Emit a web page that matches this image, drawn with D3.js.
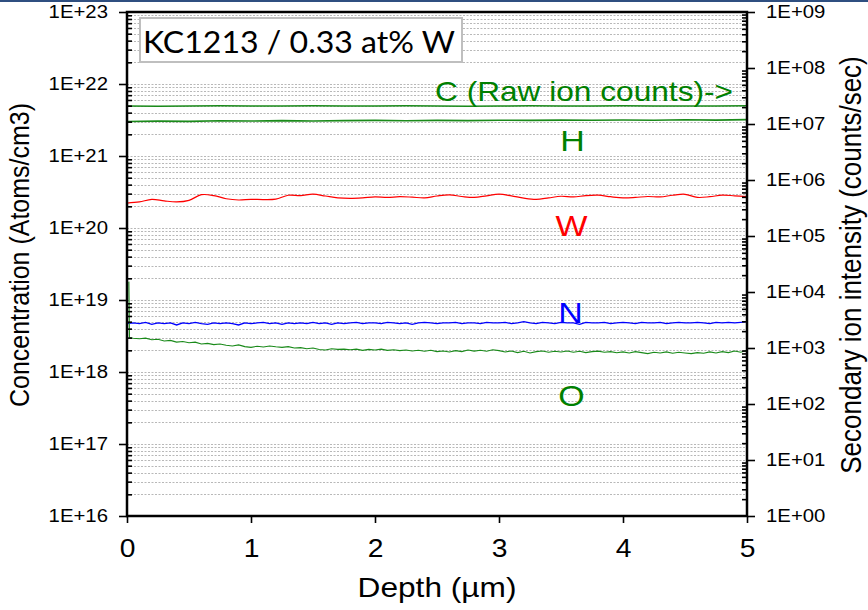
<!DOCTYPE html>
<html><head><meta charset="utf-8">
<script src="https://cdn.jsdelivr.net/npm/d3@7"></script>
<style>
html,body{margin:0;padding:0;background:#fff;}
svg{display:block;}
text{font-family:"Liberation Sans",Arial,sans-serif;}
</style></head>
<body>
<script>
// ---------- data ----------
const title = "KC1213 / 0.33 at% W";
const xTicks = [0, 1, 2, 3, 4, 5];
const yLeftTicks = [1e16, 1e17, 1e18, 1e19, 1e20, 1e21, 1e22, 1e23];
const yRightTicks = [1e0, 1e1, 1e2, 1e3, 1e4, 1e5, 1e6, 1e7, 1e8, 1e9];
const xTitle = "Depth (µm)";
const yLeftTitle = "Concentration (Atoms/cm3)";
const yRightTitle = "Secondary ion intensity (counts/sec)";

// C (raw ion counts, right axis) and H (atoms/cm3)
const depthCoarse = [0,0.25,0.5,0.75,1,1.25,1.5,1.75,2,2.25,2.5,2.75,3,3.25,3.5,3.75,4,4.25,4.5,4.75,5];
const cCounts = [2.10e7,2.08e7,2.10e7,2.12e7,2.10e7,2.09e7,2.11e7,2.10e7,2.10e7,2.12e7,2.10e7,2.08e7,2.10e7,2.11e7,2.10e7,2.10e7,2.12e7,2.10e7,2.09e7,2.10e7,2.11e7];
const hConc = [3.02e21,3.05e21,3.03e21,3.08e21,3.06e21,3.10e21,3.07e21,3.10e21,3.12e21,3.09e21,3.12e21,3.10e21,3.14e21,3.12e21,3.15e21,3.13e21,3.16e21,3.14e21,3.18e21,3.15e21,3.20e21];

// W (atoms/cm3)
const depthW = [0,0.1,0.2,0.3,0.4,0.5,0.6,0.7,0.8,0.9,1.0,1.1,1.2,1.3,1.4,1.5,1.6,1.7,1.8,1.9,2.0,2.1,2.2,2.3,2.4,2.5,2.6,2.7,2.8,2.9,3.0,3.1,3.2,3.3,3.4,3.5,3.6,3.7,3.8,3.9,4.0,4.1,4.2,4.3,4.4,4.5,4.6,4.7,4.8,4.9,5.0];
const wConc = [2.22e20,2.30e20,2.50e20,2.38e20,2.30e20,2.42e20,2.90e20,2.82e20,2.55e20,2.45e20,2.50e20,2.48e20,2.52e20,2.85e20,2.82e20,2.95e20,2.78e20,2.62e20,2.58e20,2.62e20,2.70e20,2.66e20,2.72e20,2.68e20,2.62e20,2.78e20,2.88e20,2.74e20,2.66e20,2.80e20,2.95e20,2.80e20,2.60e20,2.50e20,2.62e20,2.76e20,2.70e20,2.82e20,2.86e20,2.72e20,2.62e20,2.66e20,2.74e20,2.70e20,2.85e20,2.94e20,2.66e20,2.72e20,2.86e20,2.80e20,2.73e20];

// N (atoms/cm3)
const depthN = [0,0.05,0.1,0.15,0.2,0.25,0.3,0.35,0.4,0.45,0.5,0.55,0.6,0.65,0.7,0.75,0.8,0.85,0.9,0.95,1.0,1.05,1.1,1.15,1.2,1.25,1.3,1.35,1.4,1.45,1.5,1.55,1.6,1.65,1.7,1.75,1.8,1.85,1.9,1.95,2.0,2.05,2.1,2.15,2.2,2.25,2.3,2.35,2.4,2.45,2.5,2.55,2.6,2.65,2.7,2.75,2.8,2.85,2.9,2.95,3.0,3.05,3.1,3.15,3.2,3.25,3.3,3.35,3.4,3.45,3.5,3.55,3.6,3.65,3.7,3.75,3.8,3.85,3.9,3.95,4.0,4.05,4.1,4.15,4.2,4.25,4.3,4.35,4.4,4.45,4.5,4.55,4.6,4.65,4.7,4.75,4.8,4.85,4.9,4.95,5.0];
const nConc = [4.7e18,4.8e18,4.7e18,4.9e18,4.6e18,4.8e18,4.7e18,4.8e18,4.5e18,4.8e18,4.7e18,4.9e18,4.7e18,4.6e18,4.8e18,4.7e18,4.8e18,4.7e18,4.5e18,4.8e18,
4.7e18,4.8e18,4.9e18,4.7e18,4.8e18,4.6e18,4.8e18,4.7e18,4.8e18,4.7e18,4.9e18,4.7e18,4.8e18,4.6e18,4.8e18,4.7e18,4.8e18,4.9e18,4.7e18,4.8e18,
4.8e18,4.7e18,4.9e18,4.8e18,4.7e18,4.8e18,4.6e18,4.8e18,4.9e18,4.8e18,4.7e18,4.8e18,4.8e18,4.9e18,4.7e18,4.8e18,4.8e18,4.7e18,4.9e18,4.8e18,
4.8e18,4.9e18,4.7e18,4.8e18,5.0e18,4.8e18,4.7e18,4.9e18,4.8e18,4.7e18,4.9e18,4.8e18,4.8e18,4.6e18,4.9e18,4.8e18,4.8e18,4.9e18,4.7e18,4.8e18,
4.9e18,4.8e18,4.7e18,4.9e18,4.8e18,4.8e18,4.9e18,4.7e18,4.8e18,4.9e18,4.8e18,4.8e18,4.9e18,4.8e18,4.7e18,4.9e18,4.8e18,4.9e18,4.8e18,4.9e18,5.0e18];

// O (atoms/cm3)
const depthO = [0.015,0.02,0.05,0.1,0.15,0.2,0.25,0.3,0.35,0.4,0.45,0.5,0.55,0.6,0.65,0.7,0.75,0.8,0.85,0.9,0.95,1.0,1.05,1.1,1.15,1.2,1.25,1.3,1.35,1.4,1.45,1.5,1.55,1.6,1.65,1.7,1.75,1.8,1.85,1.9,1.95,2.0,2.05,2.1,2.15,2.2,2.25,2.3,2.35,2.4,2.45,2.5,2.55,2.6,2.65,2.7,2.75,2.8,2.85,2.9,2.95,3.0,3.05,3.1,3.15,3.2,3.25,3.3,3.35,3.4,3.45,3.5,3.55,3.6,3.65,3.7,3.75,3.8,3.85,3.9,3.95,4.0,4.05,4.1,4.15,4.2,4.25,4.3,4.35,4.4,4.45,4.5,4.55,4.6,4.65,4.7,4.75,4.8,4.85,4.9,4.95,5.0];
const oConc = [1.8e19,3.0e18,2.95e18,2.9e18,2.95e18,2.8e18,2.85e18,2.7e18,2.75e18,2.6e18,2.65e18,2.55e18,2.6e18,2.45e18,2.5e18,2.4e18,2.45e18,2.35e18,2.3e18,2.38e18,2.25e18,
2.2e18,2.28e18,2.22e18,2.3e18,2.24e18,2.2e18,2.25e18,2.15e18,2.18e18,2.1e18,2.15e18,2.05e18,2.02e18,2.1e18,2.06e18,2.08e18,2.04e18,2.08e18,2.0e18,2.06e18,
2.02e18,2.08e18,2.0e18,2.04e18,1.98e18,2.02e18,1.96e18,2.0e18,1.94e18,2.0e18,1.92e18,1.96e18,1.9e18,1.98e18,1.92e18,2.02e18,1.95e18,2.0e18,1.94e18,2.04e18,
1.98e18,1.9e18,1.96e18,1.86e18,1.94e18,1.84e18,1.92e18,1.96e18,1.88e18,1.94e18,1.9e18,1.96e18,1.88e18,1.94e18,1.86e18,1.92e18,1.95e18,1.88e18,1.92e18,1.85e18,
1.9e18,1.84e18,1.92e18,1.86e18,1.8e18,1.88e18,1.84e18,1.9e18,1.82e18,1.88e18,1.84e18,1.8e18,1.86e18,1.82e18,1.9e18,1.84e18,1.92e18,1.86e18,1.96e18,1.88e18,2.0e18];

const seriesLabels = [
  {text: "C (Raw ion counts)->", color: "#008000"},
  {text: "H", color: "#008000"},
  {text: "W", color: "#ff0000"},
  {text: "N", color: "#0000ff"},
  {text: "O", color: "#008000"}
];

// ---------- drawing ----------
const W = 868, H = 610;
const SX = 1.13; // horizontal text stretch seen in the reference
const svg = d3.select("body").append("svg").attr("width", W).attr("height", H);

svg.append("rect").attr("x",0).attr("y",0).attr("width",W).attr("height",2).attr("fill","#2f4f80");

const x = d3.scaleLinear().domain([0,5]).range([127,747]);
const yL = d3.scaleLog().domain([1e16,1e23]).range([516,12]);
const yR = d3.scaleLog().domain([1,1e9]).range([516,12]);

function stretch(sel, f){
  sel.each(function(){
    const w = this.getComputedTextLength();
    d3.select(this).attr("textLength", w*f).attr("lengthAdjust","spacingAndGlyphs");
  });
}

// minor values
const minorL = [];
for (let e = 16; e < 23; e++) for (let k = 2; k <= 9; k++) minorL.push(k*Math.pow(10,e));
const minorR = [];
for (let e = 0; e < 9; e++) for (let k = 2; k <= 9; k++) minorR.push(k*Math.pow(10,e));

// grid
const grid = svg.append("g");
grid.selectAll("line").data(minorL.concat(yLeftTicks.slice(1,-1))).join("line")
  .attr("x1", x(0)).attr("x2", x(5))
  .attr("y1", d => Math.round(yL(d))+0.5).attr("y2", d => Math.round(yL(d))+0.5)
  .attr("stroke", "#b8b8b8").attr("stroke-width", 1).attr("stroke-dasharray", "2,1.5");

// title box
svg.append("rect").attr("x",140).attr("y",18).attr("width",322).attr("height",44)
  .attr("fill","#fff").attr("stroke","#bfbfbf").attr("stroke-width",2);
const tt = svg.append("text").attr("x",143).attr("y",52.5).text(title)
  .style("font-family","Lato, 'Open Sans', sans-serif").style("font-size","30.5px").attr("fill","#000");
tt.each(function(){ const w=this.getComputedTextLength(); d3.select(this).attr("textLength", 312).attr("lengthAdjust","spacingAndGlyphs"); });

// series lines
const lineL = d3.line().x(d => x(d[0])).y(d => yL(d[1]));
const lineR = d3.line().x(d => x(d[0])).y(d => yR(d[1]));
const lineSmooth = d3.line().x(d => x(d[0])).y(d => yL(d[1])).curve(d3.curveCatmullRom);
const zip = (a,b) => a.map((v,i) => [v,b[i]]);

svg.append("path").attr("d", lineR(zip(depthCoarse,cCounts))).attr("fill","none").attr("stroke","#1a8a1a").attr("stroke-width",1.5);
svg.append("path").attr("d", lineL(zip(depthCoarse,hConc))).attr("fill","none").attr("stroke","#1a8a1a").attr("stroke-width",1.6);
svg.append("path").attr("d", lineSmooth(zip(depthW,wConc))).attr("fill","none").attr("stroke","#ff0000").attr("stroke-width",1.2);
svg.append("path").attr("d", lineL(zip(depthN,nConc))).attr("fill","none").attr("stroke","#0000ff").attr("stroke-width",1.3);
svg.append("path").attr("d", lineL(zip(depthO,oConc))).attr("fill","none").attr("stroke","#1a8a1a").attr("stroke-width",1.1);

// series labels
const labPos = [
  {x:435, y:100.5, size:28, anchor:"start", len:298},
  {x:572.5, y:151, size:30, anchor:"middle"},
  {x:571.5, y:236, size:30, anchor:"middle"},
  {x:570.5, y:323, size:30, anchor:"middle"},
  {x:571.5, y:406, size:30, anchor:"middle"}
];
seriesLabels.forEach((s,i) => {
  const p = labPos[i];
  const t = svg.append("text").attr("x",p.x).attr("y",p.y).attr("text-anchor",p.anchor)
    .style("font-size", p.size+"px").attr("fill", s.color).text(s.text);
  if (p.len) t.attr("textLength", p.len).attr("lengthAdjust","spacingAndGlyphs");
  else stretch(t, SX);
});

// axes
const fmtE = d => "1E+" + String(Math.round(Math.log10(d))).padStart(2,"0");
const gL = svg.append("g").attr("transform","translate(127,0)")
  .call(d3.axisLeft(yL).tickValues(yLeftTicks).tickFormat(fmtE).tickSizeInner(8).tickSizeOuter(0).tickPadding(11));
gL.append("g").call(d3.axisLeft(yL).tickValues(minorL).tickFormat("").tickSizeInner(-5).tickSizeOuter(0));
const gR = svg.append("g").attr("transform","translate(747,0)")
  .call(d3.axisRight(yR).tickValues(yRightTicks).tickFormat(fmtE).tickSizeInner(8).tickSizeOuter(0).tickPadding(11));
gR.append("g").call(d3.axisRight(yR).tickValues(minorR).tickFormat("").tickSizeInner(-5).tickSizeOuter(0));
const gB = svg.append("g").attr("transform","translate(0,516)")
  .call(d3.axisBottom(x).tickValues(xTicks).tickFormat(d3.format("d")).tickSizeInner(7).tickSizeOuter(0).tickPadding(16));

svg.selectAll(".domain").remove();
svg.selectAll(".tick line").attr("stroke","#000").attr("stroke-width",1.6);
gL.selectAll(".tick text").style("font-size","18px").attr("fill","#000").style("font-family","'Liberation Sans',Arial,sans-serif");
gR.selectAll(".tick text").style("font-size","18px").attr("fill","#000").style("font-family","'Liberation Sans',Arial,sans-serif");
gB.selectAll(".tick text").style("font-size","25px").attr("fill","#000").style("font-family","'Liberation Sans',Arial,sans-serif");
stretch(gL.selectAll(".tick text"), SX);
stretch(gR.selectAll(".tick text"), SX);
stretch(gB.selectAll(".tick text"), SX);

// frame
svg.append("rect").attr("x",127).attr("y",12).attr("width",620).attr("height",504)
  .attr("fill","none").attr("stroke","#000").attr("stroke-width",2.5);

// axis titles
const xt = svg.append("text").attr("x",437).attr("y",597).attr("text-anchor","middle")
  .style("font-size","28px").attr("fill","#000").text(xTitle);
stretch(xt, SX);
svg.append("text").attr("transform","translate(28.5,255) scale(1.13,1) rotate(-90)").attr("text-anchor","middle")
  .style("font-size","25px").attr("fill","#000").text(yLeftTitle);
svg.append("text").attr("transform","translate(861,265) scale(1.13,1) rotate(-90)").attr("text-anchor","middle")
  .style("font-size","26px").attr("fill","#000").text(yRightTitle);
</script>
</body></html>
